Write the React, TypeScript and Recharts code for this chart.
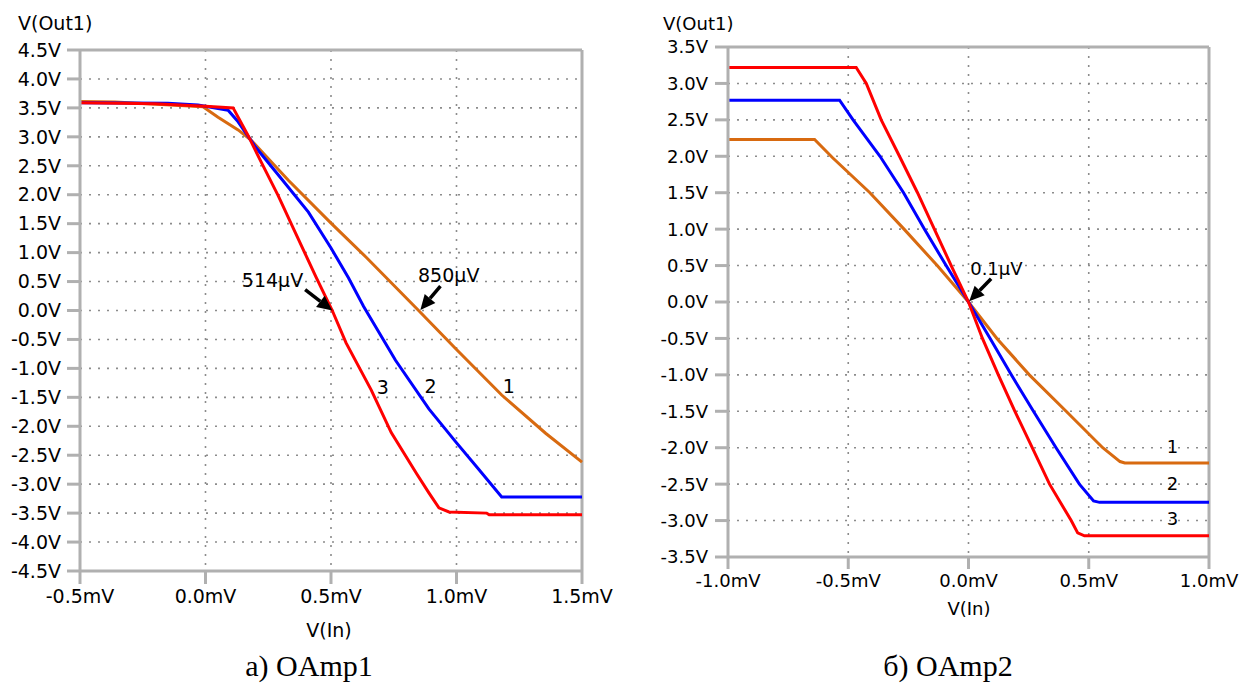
import { LineChart, Line, XAxis, YAxis, CartesianGrid, ReferenceLine, ReferenceDot } from "recharts";

// ---- OAmp1 (left panel), x in mV, y in V ----
const oa1XTicks = [-0.5, 0, 0.5, 1, 1.5];
const oa1YTicks = [4.5, 4, 3.5, 3, 2.5, 2, 1.5, 1, 0.5, 0, -0.5, -1, -1.5, -2, -2.5, -3, -3.5, -4, -4.5];

const oa1Curve1X = [-0.5, -0.36, -0.01, 0.05, 0.13, 0.18, 0.33, 0.5, 0.64, 0.849, 0.997, 1.18, 1.355, 1.5];
const oa1Curve1Y = [3.61, 3.6, 3.52, 3.34, 3.12, 2.95, 2.25, 1.51, 0.92, 0.0, -0.66, -1.46, -2.12, -2.62];

const oa1Curve2X = [-0.5, -0.15, -0.03, 0.09, 0.13, 0.2, 0.3, 0.41, 0.5, 0.57, 0.63, 0.757, 0.89, 0.997, 1.09, 1.18, 1.5];
const oa1Curve2Y = [3.59, 3.58, 3.55, 3.46, 3.26, 2.82, 2.29, 1.7, 1.08, 0.56, 0.07, -0.86, -1.7, -2.27, -2.75, -3.22, -3.22];

const oa1Curve3X = [-0.5, -0.2, 0.0, 0.11, 0.17, 0.22, 0.29, 0.35, 0.44, 0.505, 0.56, 0.66, 0.74, 0.84, 0.89, 0.93, 0.97, 1.12, 1.13, 1.5];
const oa1Curve3Y = [3.59, 3.57, 3.53, 3.5, 3.02, 2.58, 1.98, 1.42, 0.58, 0.0, -0.56, -1.37, -2.11, -2.81, -3.15, -3.41, -3.48, -3.5, -3.53, -3.53];

// ---- OAmp2 (right panel) ----
const oa2XTicks = [-1, -0.5, 0, 0.5, 1];
const oa2YTicks = [3.5, 3, 2.5, 2, 1.5, 1, 0.5, 0, -0.5, -1, -1.5, -2, -2.5, -3, -3.5];

const oa2Curve1X = [-1.0, -0.64, -0.565, -0.41, -0.268, -0.13, 0.0, 0.118, 0.253, 0.406, 0.558, 0.63, 0.65, 1.0];
const oa2Curve1Y = [2.23, 2.23, 1.98, 1.5, 1.0, 0.5, 0.0, -0.5, -1.0, -1.5, -2.0, -2.19, -2.21, -2.21];

const oa2Curve2X = [-1.0, -0.536, -0.48, -0.368, -0.27, -0.183, -0.093, 0.0, 0.09, 0.178, 0.27, 0.364, 0.461, 0.52, 0.545, 1.0];
const oa2Curve2Y = [2.77, 2.77, 2.5, 2.0, 1.5, 1.0, 0.5, 0.0, -0.5, -1.0, -1.5, -2.0, -2.5, -2.73, -2.75, -2.75];

const oa2Curve3X = [-1.0, -0.467, -0.425, -0.363, -0.287, -0.212, -0.142, -0.072, 0.0, 0.058, 0.124, 0.193, 0.265, 0.337, 0.427, 0.454, 0.482, 1.0];
const oa2Curve3Y = [3.22, 3.22, 3.0, 2.5, 2.0, 1.5, 1.0, 0.5, 0.0, -0.5, -1.0, -1.5, -2.0, -2.5, -3.0, -3.17, -3.21, -3.21];

const C_ORANGE = "#d86a10";
const C_BLUE = "#0000ff";
const C_RED = "#ff0000";
const AXIS = "#b0b0b0";
const FONT = "DejaVu Sans";

const zip = (xs: number[], ys: number[]) => xs.map((x, i) => ({ x, y: ys[i] }));

const fmtV = (v: number) => `${v.toFixed(1)}V`;
const fmtMV = (v: number) => `${v.toFixed(1)}mV`;

function Arrow(props: any) {
  const { x1, y1, x2, y2 } = props;
  const dx = x2 - x1;
  const dy = y2 - y1;
  const len = Math.hypot(dx, dy) || 1;
  const ux = dx / len;
  const uy = dy / len;
  const head = 15;
  const half = 7;
  const bx = x2 - ux * head;
  const by = y2 - uy * head;
  const pts = `${x2},${y2} ${bx - uy * half},${by + ux * half} ${bx + uy * half},${by - ux * half}`;
  return (
    <g>
      <line x1={x1} y1={y1} x2={bx} y2={by} stroke="#000" strokeWidth={3.5} />
      <polygon points={pts} fill="#000" />
    </g>
  );
}

const textShape = (label: string, size: number) => (p: any) => (
  <text x={p.cx} y={p.cy} textAnchor="middle" fontFamily={FONT} fontSize={size} fill="#000">
    {label}
  </text>
);

const gridProps = { stroke: "#8c8c8c", strokeWidth: 1.6, strokeDasharray: "2 7" };

export default function App() {
  const tick = { fill: "#000", fontSize: 19, fontFamily: FONT };
  const tick2 = { fill: "#000", fontSize: 18, fontFamily: FONT };
  return (
    <div style={{ position: "absolute", left: 0, top: 0, width: 1243, height: 684, background: "#fff", overflow: "hidden" }}>
      <div style={{ position: "absolute", left: 0, top: 0 }}>
        <LineChart width={620} height={640} margin={{ top: 50, right: 38, bottom: 29, left: 0 }}>
          <CartesianGrid {...gridProps} />
          <XAxis
            type="number"
            dataKey="x"
            domain={[-0.5, 1.5]}
            ticks={oa1XTicks}
            interval={0}
            tickFormatter={fmtMV}
            height={40}
            tickSize={13}
            tickMargin={6}
            axisLine={{ stroke: AXIS, strokeWidth: 3 }}
            tickLine={{ stroke: AXIS, strokeWidth: 3 }}
            tick={tick}
          />
          <YAxis
            type="number"
            domain={[-4.5, 4.5]}
            ticks={oa1YTicks}
            interval={0}
            tickFormatter={fmtV}
            width={80}
            tickSize={13}
            tickMargin={6}
            axisLine={{ stroke: AXIS, strokeWidth: 3 }}
            tickLine={{ stroke: AXIS, strokeWidth: 3 }}
            tick={tick}
          />
          <ReferenceLine y={4.5} stroke={AXIS} strokeWidth={3} />
          <ReferenceLine x={1.5} stroke={AXIS} strokeWidth={3} />
          <Line data={zip(oa1Curve1X, oa1Curve1Y)} dataKey="y" type="linear" stroke={C_ORANGE} strokeWidth={3} dot={false} isAnimationActive={false} />
          <Line data={zip(oa1Curve2X, oa1Curve2Y)} dataKey="y" type="linear" stroke={C_BLUE} strokeWidth={3} dot={false} isAnimationActive={false} />
          <Line data={zip(oa1Curve3X, oa1Curve3Y)} dataKey="y" type="linear" stroke={C_RED} strokeWidth={3} dot={false} isAnimationActive={false} />
          <ReferenceLine segment={[{ x: 0.397, y: 0.36 }, { x: 0.505, y: 0.0 }]} shape={Arrow} />
          <ReferenceLine segment={[{ x: 0.936, y: 0.42 }, { x: 0.856, y: 0.01 }]} shape={Arrow} />
          <ReferenceDot x={0.267} y={0.41} r={0} shape={textShape("514µV", 19)} />
          <ReferenceDot x={0.969} y={0.49} r={0} shape={textShape("850µV", 19)} />
          <ReferenceDot x={1.208} y={-1.42} r={0} shape={textShape("1", 19)} />
          <ReferenceDot x={0.897} y={-1.42} r={0} shape={textShape("2", 19)} />
          <ReferenceDot x={0.706} y={-1.44} r={0} shape={textShape("3", 19)} />
        </LineChart>
      </div>
      <div style={{ position: "absolute", left: 620, top: 0 }}>
        <LineChart width={623} height={640} margin={{ top: 47, right: 34, bottom: 43, left: 0 }}>
          <CartesianGrid {...gridProps} />
          <XAxis
            type="number"
            dataKey="x"
            domain={[-1, 1]}
            ticks={oa2XTicks}
            interval={0}
            tickFormatter={fmtMV}
            height={40}
            tickSize={12}
            tickMargin={5}
            axisLine={{ stroke: AXIS, strokeWidth: 3 }}
            tickLine={{ stroke: AXIS, strokeWidth: 3 }}
            tick={tick2}
          />
          <YAxis
            type="number"
            domain={[-3.5, 3.5]}
            ticks={oa2YTicks}
            interval={0}
            tickFormatter={fmtV}
            width={108}
            tickSize={13}
            tickMargin={7}
            axisLine={{ stroke: AXIS, strokeWidth: 3 }}
            tickLine={{ stroke: AXIS, strokeWidth: 3 }}
            tick={tick2}
          />
          <ReferenceLine y={3.5} stroke={AXIS} strokeWidth={3} />
          <ReferenceLine x={1} stroke={AXIS} strokeWidth={3} />
          <Line data={zip(oa2Curve1X, oa2Curve1Y)} dataKey="y" type="linear" stroke={C_ORANGE} strokeWidth={3} dot={false} isAnimationActive={false} />
          <Line data={zip(oa2Curve2X, oa2Curve2Y)} dataKey="y" type="linear" stroke={C_BLUE} strokeWidth={3} dot={false} isAnimationActive={false} />
          <Line data={zip(oa2Curve3X, oa2Curve3Y)} dataKey="y" type="linear" stroke={C_RED} strokeWidth={3} dot={false} isAnimationActive={false} />
          <ReferenceLine segment={[{ x: 0.094, y: 0.32 }, { x: 0.003, y: 0.01 }]} shape={Arrow} />
          <ReferenceDot x={0.116} y={0.37} r={0} shape={textShape("0.1µV", 18)} />
          <ReferenceDot x={0.848} y={-2.07} r={0} shape={textShape("1", 18)} />
          <ReferenceDot x={0.848} y={-2.58} r={0} shape={textShape("2", 18)} />
          <ReferenceDot x={0.848} y={-3.06} r={0} shape={textShape("3", 18)} />
        </LineChart>
      </div>
      <svg width={1243} height={684} style={{ position: "absolute", left: 0, top: 0, pointerEvents: "none" }}>
        <text x={18} y={30} fontFamily={FONT} fontSize={19} fill="#000">V(Out1)</text>
        <text x={663} y={30} fontFamily={FONT} fontSize={18} fill="#000">V(Out1)</text>
        <text x={329} y={637} textAnchor="middle" fontFamily={FONT} fontSize={19} fill="#000">V(In)</text>
        <text x={969} y={615} textAnchor="middle" fontFamily={FONT} fontSize={18} fill="#000">V(In)</text>
        <text x={309} y={676} textAnchor="middle" fontFamily="Liberation Serif" fontSize={30} fill="#000">а) OAmp1</text>
        <text x={948} y={676} textAnchor="middle" fontFamily="Liberation Serif" fontSize={30} fill="#000">б) OAmp2</text>
      </svg>
    </div>
  );
}
